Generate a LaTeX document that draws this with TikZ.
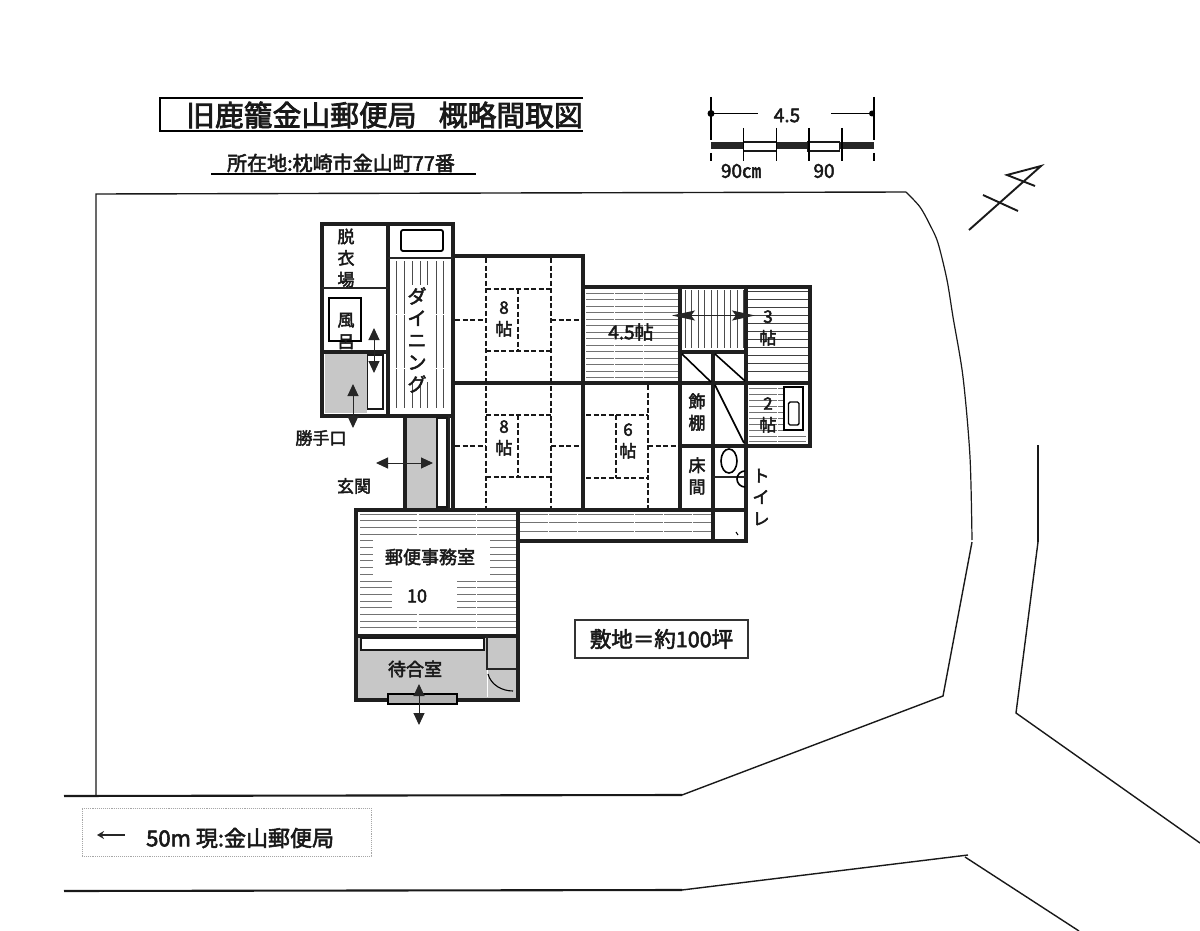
\documentclass[tikz,border=0pt]{standalone}
\usepackage{fontspec}
\setmainfont[RawFeature={embolden=2.6}]{Noto Sans CJK JP}
\usetikzlibrary{arrows.meta}

\begin{document}
\begin{tikzpicture}[x=1pt,y=-1pt,line join=miter,>={Triangle[length=12pt,width=11pt]}]
	\tikzstyle{wall}=[line width=3.2pt,draw=black!88,line cap=square]
	\tikzstyle{thinwall}=[line width=2pt,draw=black!85]
	\tikzstyle{site}=[line width=1.4pt,draw=black!90]
	\tikzstyle{road}=[line width=2.1pt,draw=black!90]
	\tikzstyle{matline}=[line width=1.5pt,draw=black!90,dash pattern=on 5pt off 2.5pt]
	\tikzstyle{hatch}=[line width=.9pt,draw=black!55,dash pattern=on 28pt off .8pt]
	\tikzstyle{floor}=[fill=black!22,draw=none]
	\tikzstyle{fixture}=[line width=1.5pt,draw=black!90,fill=white]
	\tikzstyle{lbl}=[inner sep=0pt,align=center,text=black!90,font=\fontsize{17}{21.5}\selectfont]
	\tikzstyle{move}=[<->,line width=1pt,draw=black!85]
	\useasboundingbox (0,0) rectangle (1200,931);
	\fill[white] (0,0) rectangle (1200,931);

	% site
	\draw[road] (64,796) -- (682,795);
	\draw[site] (682,795) -- (943,696) -- (972,542);
	\draw[site,line width=1.2pt] plot[smooth] coordinates {(972,540) (970,457) (963,377) (953,317) (947,280) (938,243) (930,225) (920,207) (906,192)};
	\draw[site] (906,192) -- (96,194) -- (96,796);
	\draw[site,line width=1.8pt] (1038,445) -- (1038,542);
	\draw[site] (1038,542) -- (1016,713) -- (1200,843);
	\draw[road] (64,891) -- (682,890);
	\draw[site] (682,890) -- (968,855);
	\draw[site] (965,857) -- (1079,931);

	% north
	\draw[line width=1.9pt,draw=black!90] (969,230) -- (1041,166) -- (1007,175) -- (1035,186);
	\draw[line width=1.9pt,draw=black!90] (983,195) -- (1018,211);

	% title
	\draw[line width=2pt] (583,98) -- (160,98) -- (160,131) -- (583,131);
	\node[lbl,font=\fontsize{28.8}{32}\selectfont,anchor=west] (title) at (186,115) {旧鹿籠金山郵便局};
	\node[lbl,font=\fontsize{28.8}{32}\selectfont,anchor=east] (titleb) at (583,115) {概略間取図};
	\node[lbl,font=\fontsize{20}{23}\selectfont] (place) at (341,163) {所在地:枕崎市金山町77番};
	\draw[line width=1.5pt] (211,174) -- (476,174);

	% scale
	\draw[line width=1.3pt] (711,97) -- (711,140) (874,97) -- (874,140);
	\fill (711,113.5) circle (3.5pt) (872,113.5) circle (3pt);
	\draw[line width=1pt] (711,113.5) -- (758,113.5) (831,113.5) -- (872,113.5);
	\node[lbl,font=\fontsize{19}{22}\selectfont] (span) at (787,115.5) {4.5};
	\fill[black!85] (711,142.5) rectangle (874,149.5);
	\draw[fixture] (743.5,142) rectangle (776.5,151);
	\draw[fixture] (807.5,142) rectangle (839.5,151);
	\foreach \tx in {743.5,776.5,809,842}
		\draw[line width=1.3pt] (\tx,128) -- (\tx,161);
	\draw[line width=1.3pt] (711,153) -- (711,161) (874,153) -- (874,161);
	\node[lbl,font=\fontsize{19}{22}\selectfont] (unita) at (741,171) {90㎝};
	\node[lbl,font=\fontsize{19}{22}\selectfont] (unitb) at (824,171) {90};

	% floors
	\foreach \hx in {396,404,436,443}
		\draw[line width=.9pt,draw=black!70,dash pattern=on 53pt off 1pt] (\hx,261) -- (\hx,408);
	\foreach \hx in {412,420,427} {
		\draw[line width=.9pt,draw=black!70] (\hx,261) -- (\hx,285);
		\draw[line width=.9pt,draw=black!70] (\hx,382) -- (\hx,408);
	}
	\foreach \hy in {293,299.5,...,378}
		\draw[hatch] (586,\hy) -- (679,\hy);
	\foreach \hx in {685,691.5,...,745}
		\draw[line width=.9pt,draw=black!70] (\hx,290) -- (\hx,348);
	\foreach \hy in {291,299,...,378}
		\draw[line width=1pt,draw=black!75] (748,\hy) -- (808,\hy);
	\foreach \hy in {388,394,...,430}
		\draw[hatch] (749,\hy) -- (783,\hy);
	\foreach \hy in {436,441}
		\draw[hatch] (749,\hy) -- (806,\hy);
	\foreach \hy in {514,522.5,531}
		\draw[hatch] (520,\hy) -- (712,\hy);
	\foreach \hy in {514,520.7,...,634}
		\draw[hatch,dash pattern=on 57pt off 1.5pt] (360,\hy) -- (516,\hy);
	\fill[white] (373,540) rectangle (490,577);
	\fill[white] (392,577) rectangle (457,608);
	\path[floor] (325,354) rectangle (367,413);
	\path[floor] (407,417) rectangle (436,508);
	\path[floor] (358,638) rectangle (516,698);

	% walls
	\draw[wall] (322,224) rectangle (453,416);
	\draw[wall] (388,224) -- (388,416);
	\draw[wall] (453,256) -- (583,256) -- (583,510);
	\draw[wall] (453,416) -- (453,510);
	\draw[wall] (405,416) -- (405,510);
	\draw[wall] (583,287) -- (810,287) -- (810,446) -- (746,446);
	\draw[wall] (453,383) -- (810,383);
	\draw[wall] (680,287) -- (680,510);
	\draw[wall] (713,352) -- (713,541);
	\draw[wall] (746,287) -- (746,541) -- (518,541);
	\draw[wall] (680,352) -- (746,352);
	\draw[wall] (680,446) -- (746,446);
	\draw[wall] (518,510) -- (746,510);
	\draw[wall] (356,510) rectangle (518,700);
	\draw[wall] (356,636) -- (518,636);
	\draw[wall] (322,352) -- (388,352);
	\draw[thinwall] (322,288) -- (388,288);
	\draw[thinwall] (388,258) -- (453,258);
	\draw[thinwall] (713,477) -- (746,477);
	\draw[thinwall] (449,416) -- (449,510);

	% tatami
	\draw[matline] (486,258) -- (486,508) (551,258) -- (551,508);
	\foreach \oy in {0,126} {
		\draw[matline] (455,320+\oy) -- (486,320+\oy) (551,320+\oy) -- (581,320+\oy);
		\draw[matline] (486,289+\oy) -- (551,289+\oy) (486,351+\oy) -- (551,351+\oy);
		\draw[matline] (518,289+\oy) -- (518,351+\oy);
	}
	\draw[matline] (648,385) -- (648,508);
	\draw[matline] (586,415) -- (648,415) (586,478) -- (648,478) (648,446) -- (679,446);
	\draw[matline] (616,415) -- (616,478);

	% fixtures
	\draw[line width=1.8pt,rounded corners=2pt] (401,230) rectangle (443,251);
	\draw[line width=1.8pt] (329,298) rectangle (361,341);
	\draw[fixture,line width=1.8pt] (367.5,355) rectangle (383,409);
	\draw[fixture] (437,418) rectangle (447,507);
	\draw[fixture] (361,638) rectangle (484,650);
	\draw[line width=1.6pt] (682,354) -- (711,382) (715,354) -- (745,381) (715,385) -- (744,443);
	\draw[line width=1.6pt] (729,461) ellipse (8 and 12);
	\draw[line width=1.6pt] (745,487) arc (90:270:8);
	\draw[line width=1.8pt] (784,387) rectangle (803,430);
	\draw[line width=1.4pt,rounded corners=1.5pt] (788.5,402) rectangle (799,425);
	\draw[line width=1pt] (736,532) -- (738,535);
	\draw[thinwall] (487,636) -- (487,669) -- (516,669);
	\draw[white,line width=1pt] (487,670) -- (487,697);
	\draw[line width=1.1pt] (488,674) .. controls (491,685) and (502,691) .. (513,691);
	\draw[line width=1.4pt,fill=black!30] (388,694) rectangle (457,704);

	% doors
	\draw[move] (374,328) -- (374,373);
	\draw[move] (353,384) -- (353,428);
	\draw[move] (376,463) -- (433,463);
	\draw[move] (419,684) -- (419,725);
	\draw[<->,>={Stealth[length=23pt,width=10pt,inset=4pt]},line width=1pt,draw=black!85] (672,315.5) -- (755,315.5);

	% rooms
	\node[lbl] (datsui) at (346,258) {脱\\衣\\場};
	\node[lbl] (furo) at (346,331) {風\\呂};
	\node[lbl,font=\fontsize{19}{22}\selectfont] (dining) at (417,340) {ダ\\イ\\ニ\\ン\\グ};
	\node[lbl] (katte) at (321,438) {勝手口};
	\node[lbl] (genkan) at (354,486) {玄関};
	\node[lbl] (mata) at (504,319) {8\\帖};
	\node[lbl] (matb) at (504,438) {8\\帖};
	\node[lbl] (matc) at (628,441) {6\\帖};
	\node[lbl,font=\fontsize{19}{22}\selectfont] (matd) at (631,332) {4.5帖};
	\node[lbl] (mate) at (768,328) {3\\帖};
	\node[lbl] (matf) at (768,415) {2\\帖};
	\node[lbl] (kazari) at (697,412) {飾\\棚};
	\node[lbl] (toko) at (697,476) {床\\間};
	\node[lbl] (toilet) at (761,497) {ト\\イ\\レ};
	\node[lbl,font=\fontsize{18}{21}\selectfont] (office) at (430,557) {郵便事務室};
	\node[lbl,font=\fontsize{18}{21}\selectfont] (tsubo) at (417,596) {10};
	\node[lbl,font=\fontsize{18}{21}\selectfont] (wait) at (415,669) {待合室};

	% notes
	\node[draw=black!80,line width=1.5pt,minimum width=173pt,minimum height=38pt,inner sep=0pt,font=\fontsize{21.5}{24}\selectfont,text=black!90] (area) at (661.5,639) {敷地＝約100坪};
	\node[draw=black!35,densely dotted,line width=.9pt,minimum width=289pt,minimum height=48pt,inner sep=0pt] (road) at (226.5,832) {};
	\node[lbl,anchor=west,font=\fontsize{22}{25}\selectfont] (post) at (146,838) {50m 現:金山郵便局};
	\draw[<-,>={Stealth[length=7pt,width=8pt]},line width=1.6pt,draw=black!85] (97,835) -- (125,835);
\end{tikzpicture}
\end{document}
